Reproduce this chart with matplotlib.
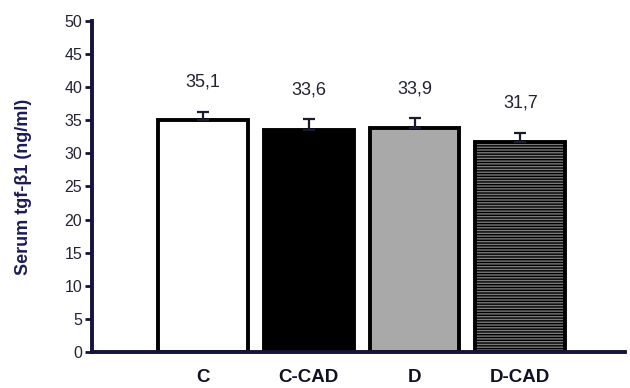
import matplotlib
matplotlib.use("Agg")
import matplotlib.pyplot as plt
import numpy as np

plt.rcParams['font.family'] = ['Liberation Sans', 'DejaVu Sans']
plt.rcParams['hatch.linewidth'] = 1.0

categories = ["C", "C-CAD", "D", "D-CAD"]
values = [35.1, 33.6, 33.9, 31.7]
errors = [1.2, 1.6, 1.4, 1.4]
value_labels = ["35,1", "33,6", "33,9", "31,7"]
yticks = [0, 5, 10, 15, 20, 25, 30, 35, 40, 45, 50]

navy = "#14143c"

fig = plt.figure(figsize=(6.3, 3.88), dpi=100)
ax = fig.add_axes([0.146, 0.093, 0.846, 0.853])

x = np.arange(len(categories))
faces = ["white", "black", "#a9a9a9", "#7a7a7a"]
hatches = [None, None, None, "------"]
for xi, v, fc, h in zip(x, values, faces, hatches):
    ax.bar(xi, v, width=0.85, facecolor=fc, edgecolor="black",
           linewidth=2.8, hatch=h, zorder=2)

ax.errorbar(x, values, yerr=[[0] * len(values), errors], fmt="none",
            ecolor="#1a1a30", elinewidth=1.6, capsize=4, capthick=1.6, zorder=3)

for xi, v, e, lab in zip(x, values, errors, value_labels):
    ax.annotate(lab, (xi, v + e), xytext=(0, 15), textcoords="offset points",
                ha="center", va="bottom", fontsize=13, color="#222233")

ax.set_xlim(-1.05, 3.99)
ax.set_ylim(0, 50)
ax.set_yticks(yticks)
ax.set_xticks(x)
ax.set_xticklabels(categories, fontsize=13.5, fontweight="bold", color="#111122")
ax.tick_params(axis="x", length=0, pad=12)
ax.tick_params(axis="y", length=5, width=2, color=navy, labelsize=11.5,
               labelcolor="#222233", pad=2, direction="out")

for s in ["top", "right"]:
    ax.spines[s].set_visible(False)
for s in ["left", "bottom"]:
    ax.spines[s].set_linewidth(2.8)
    ax.spines[s].set_color(navy)

ax.set_ylabel("Serum tgf-\u03b21 (ng/ml)", fontsize=13, fontweight="bold",
              color="#1c1c55", labelpad=23)

fig.savefig("out.png", dpi=100)
